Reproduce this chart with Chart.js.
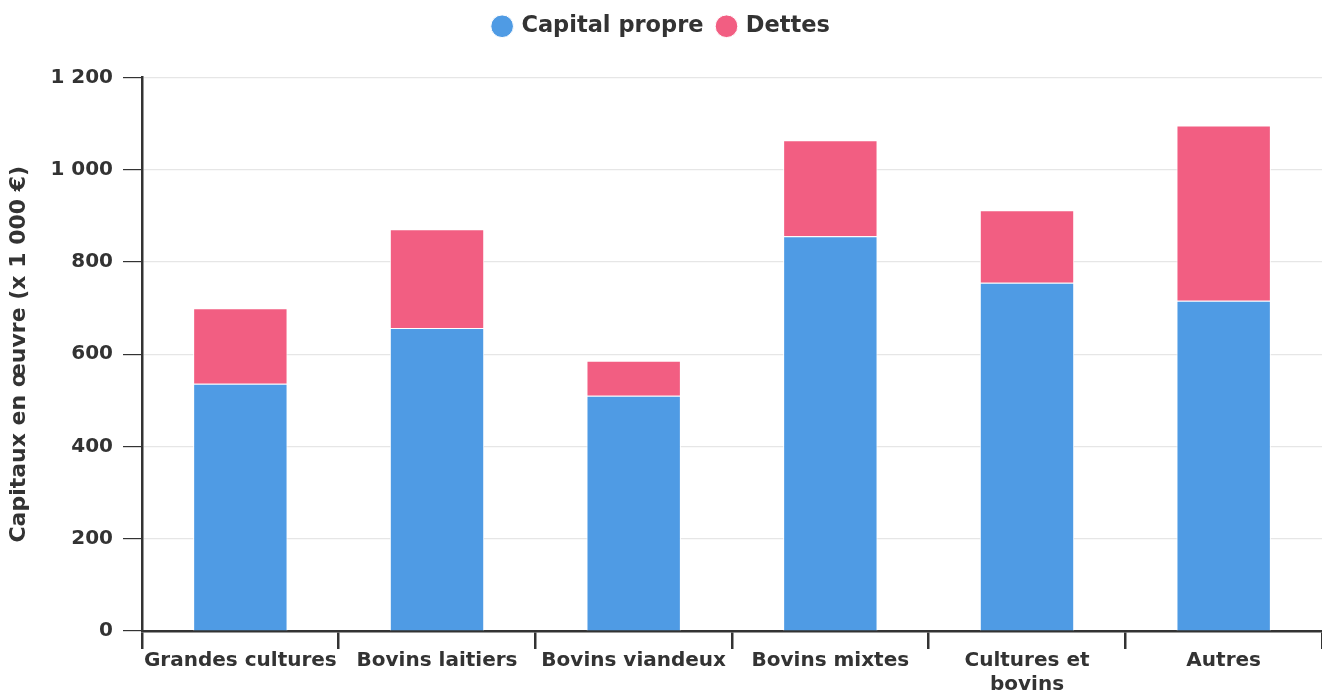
<!DOCTYPE html>
<html>
<head>
<meta charset="utf-8">
<script src="https://cdn.jsdelivr.net/npm/chart.js@4/dist/chart.umd.min.js"></script>
<style>
  body { margin: 0; background: #fff; }
  #wrap { width: 1322px; height: 697px; }
</style>
</head>
<body>
<div id="wrap"><canvas id="chart_1"></canvas></div>
<script>
// data (x 1 000 €)
let categories = ['Grandes cultures', 'Bovins laitiers', 'Bovins viandeux', 'Bovins mixtes', ['Cultures et', 'bovins'], 'Autres']
let capital_propre = [536, 657, 510, 856, 755, 716]
let dettes = [164, 214, 76, 208, 157, 380]
let y_ticks = [0, 200, 400, 600, 800, 1000, 1200]

function fmt_thousands(v) {
  return String(v).replace(/\B(?=(\d{3})+(?!\d))/g, ' ')
}

Chart.defaults.font.family = '"DejaVu Sans", sans-serif'
Chart.defaults.font.weight = 'bold'
Chart.defaults.color = '#333'

//extra space between the legend and the plot
let legend_gap = {
  id: 'legend_gap',
  beforeInit: function (chart) {
    let fit = chart.legend.fit
    chart.legend.fit = function () {
      fit.bind(chart.legend)()
      this.height += 30
    }
  }
}

let ctx = document.getElementById('chart_1').getContext('2d')
let chart1 = new Chart(ctx, {
  type: 'bar',
  data: {
    labels: categories,
    datasets: [
      {
        label: 'Capital propre',
        data: capital_propre,
        backgroundColor: '#4f9be4',
        borderColor: '#ffffff',
        borderWidth: 1,
        categoryPercentage: 1,
        barPercentage: 0.48
      },
      {
        label: 'Dettes',
        data: dettes,
        backgroundColor: '#f25e82',
        borderColor: '#ffffff',
        borderWidth: 1,
        categoryPercentage: 1,
        barPercentage: 0.48
      }
    ]
  },
  plugins: [legend_gap],
  options: {
    responsive: true,
    maintainAspectRatio: false,
    animation: false,
    layout: { padding: { left: 2, right: 0, top: 0, bottom: 0 } },
    plugins: {
      legend: {
        position: 'top',
        labels: {
          usePointStyle: true,
          pointStyle: 'circle',
          boxWidth: 16,
          boxHeight: 16,
          font: { size: 22.5, weight: 'bold' },
          padding: 15
        }
      },
      tooltip: { enabled: false }
    },
    scales: {
      x: {
        stacked: true,
        border: { color: '#333', width: 2.5 },
        grid: { drawOnChartArea: false, offset: true, tickColor: '#333', tickLength: 18, lineWidth: 2.5 },
        ticks: {
          font: { size: 20, weight: 'bold', lineHeight: 1.2 },
          color: '#333',
          autoSkip: false,
          maxRotation: 0,
          padding: 0
        }
      },
      y: {
        stacked: true,
        min: 0,
        max: 1200,
        afterBuildTicks: function (axis) {
          axis.ticks = y_ticks.map(function (v) { return { value: v } })
        },
        border: { color: '#333', width: 2.5 },
        grid: { color: '#e6e6e6', tickColor: '#333', tickLength: 19, lineWidth: 1.2 },
        ticks: {
          font: { size: 20, weight: 'bold' },
          color: '#333',
          padding: 10,
          callback: function (v) { return fmt_thousands(v) }
        },
        title: {
          display: true,
          text: 'Capitaux en œuvre (x 1 000 €)',
          font: { size: 22, weight: 'bold' },
          color: '#333',
          padding: { top: 4, bottom: 8 }
        }
      }
    }
  }
})
</script>
</body>
</html>
